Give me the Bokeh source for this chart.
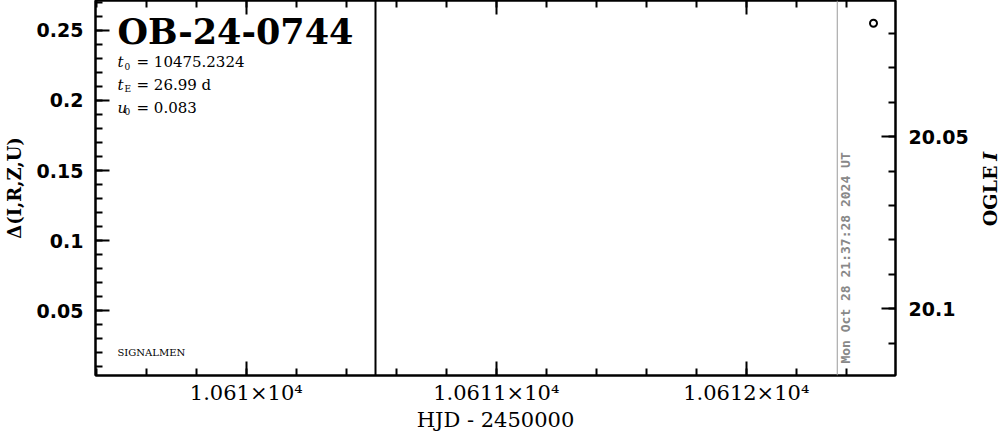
import math
from bokeh.plotting import figure
from bokeh.layouts import row
from bokeh.models import (Range1d, LinearAxis, FixedTicker, Span, Label,
                          CustomJSTickFormatter)
from bokeh.embed import file_html
from bokeh.resources import INLINE

# ---- data ----
event_name = "OB-24-0744"
param_symbols = ["t", "t", "u"]
param_subs = ["0", "E", "0"]
param_values = ["= 10475.2324", "= 26.99 d", "= 0.083"]
timestamp = "Mon Oct 28 21:37:28 2024 UT"
signature = "SIGNALMEN"
x_title = "HJD - 2450000"
left_title = "Δ(I,R,Z,U)"
right_title = ["OGLE", "I"]

x_major = [10610, 10611, 10612]
x_major_labels = ["1.061×10⁴", "1.0611×10⁴", "1.0612×10⁴"]
x_minor = [10609.4 + 0.2 * i for i in range(17)]

d_major = [0.05, 0.1, 0.15, 0.2, 0.25]
d_major_labels = ["0.05", "0.1", "0.15", "0.2", "0.25"]
d_minor = [0.01 * i for i in range(1, 28)]

m_major = [20.05, 20.1]
m_major_labels = ["20.05", "20.1"]
m_minor = [round(20.01 + 0.01 * i, 2) for i in range(11)]

ogle_t = [10612.509]
ogle_mag = [20.017]

black_line_t = 10610.517
now_line_t = 10612.364

# ---- main figure ----
p = figure(width=974, height=434,
           x_range=Range1d(10609.397, 10612.597),
           y_range=Range1d(0.0039, 0.2713),
           output_backend="svg", toolbar_location=None,
           min_border_left=95, min_border_right=79,
           min_border_top=0, min_border_bottom=57)
p.extra_y_ranges = {"mag": Range1d(20.1194, 20.0104)}
p.xgrid.visible = False
p.ygrid.visible = False
p.outline_line_color = "black"
p.outline_line_width = 2
p.background_fill_color = "white"
p.border_fill_color = "white"

def style_axis(ax):
    ax.axis_line_width = 2
    ax.axis_line_color = "black"
    ax.major_tick_in = 14
    ax.major_tick_out = 0
    ax.minor_tick_in = 7
    ax.minor_tick_out = 0
    ax.major_tick_line_width = 2
    ax.minor_tick_line_width = 2
    ax.major_tick_line_color = "black"
    ax.minor_tick_line_color = "black"

# bottom axis
xa = p.xaxis[0]
xa.ticker = FixedTicker(ticks=x_major, minor_ticks=x_minor)
xa.major_label_overrides = dict(zip(x_major, x_major_labels))
style_axis(xa)
xa.major_label_text_font = "DejaVu Serif"
xa.major_label_text_font_size = "21px"
xa.major_label_text_color = "black"
xa.major_label_standoff = 5
xa.axis_label = x_title
xa.axis_label_text_font = "DejaVu Serif"
xa.axis_label_text_font_size = "21px"
xa.axis_label_text_font_style = "normal"
xa.axis_label_text_color = "black"
xa.axis_label_standoff = 0

# top axis (ticks only)
ta = LinearAxis(ticker=FixedTicker(ticks=x_major, minor_ticks=x_minor),
                formatter=CustomJSTickFormatter(code="return ''"))
style_axis(ta)
ta.major_label_standoff = 0
p.add_layout(ta, "above")

# left axis
ya = p.yaxis[0]
ya.ticker = FixedTicker(ticks=d_major, minor_ticks=d_minor)
ya.major_label_overrides = dict(zip(d_major, d_major_labels))
style_axis(ya)
ya.major_label_text_font = "DejaVu Sans"
ya.major_label_text_font_style = "bold"
ya.major_label_text_font_size = "19px"
ya.major_label_text_color = "black"
ya.major_label_standoff = 12
ya.axis_label = left_title
ya.axis_label_text_font = "DejaVu Serif"
ya.axis_label_text_font_style = "bold"
ya.axis_label_text_font_size = "18px"
ya.axis_label_text_color = "black"
ya.axis_label_standoff = 9

# right axis (magnitudes)
ra = LinearAxis(y_range_name="mag",
                ticker=FixedTicker(ticks=m_major, minor_ticks=m_minor))
ra.major_label_overrides = dict(zip(m_major, m_major_labels))
style_axis(ra)
ra.major_label_text_font = "DejaVu Sans"
ra.major_label_text_font_style = "bold"
ra.major_label_text_font_size = "19px"
ra.major_label_text_color = "black"
ra.major_label_standoff = 13
p.add_layout(ra, "right")

# vertical lines
p.add_layout(Span(location=black_line_t, dimension="height",
                  line_color="black", line_width=2))
p.add_layout(Span(location=now_line_t, dimension="height",
                  line_color="#9a9a9a", line_width=1))

# data
p.scatter(ogle_t, ogle_mag, y_range_name="mag", marker="circle", size=7,
          fill_color=None, line_color="black", line_width=2)

# texts
x0 = 10609.485
p.add_layout(Label(x=x0, y=0.2493, text=event_name, text_font="DejaVu Serif",
                   text_font_style="bold", text_font_size="35px",
                   text_baseline="middle", text_color="black"))
ys = [0.2273, 0.2110, 0.1947]
for sym, sub, val, yy in zip(param_symbols, param_subs, param_values, ys):
    p.add_layout(Label(x=x0, y=yy, text=sym, text_font="DejaVu Serif",
                       text_font_style="italic", text_font_size="15px",
                       text_baseline="middle", text_color="black"))
    p.add_layout(Label(x=x0, y=yy, x_offset=7, y_offset=-4, text=sub,
                       text_font="DejaVu Serif", text_font_size="9px",
                       text_baseline="middle", text_color="black"))
    p.add_layout(Label(x=x0, y=yy, x_offset=19, text=val,
                       text_font="DejaVu Serif", text_font_size="15px",
                       text_baseline="middle", text_color="black"))

p.add_layout(Label(x=x0, y=0.0202, text=signature, text_font="DejaVu Serif",
                   text_font_size="10px", text_baseline="middle",
                   text_color="black"))

p.add_layout(Label(x=10612.397, y=0.0124, text=timestamp, angle=90,
                   angle_units="deg", text_align="left", text_baseline="middle",
                   text_font="DejaVu Sans Mono", text_font_style="bold",
                   text_font_size="13px", text_color="#888888"))

# ---- narrow strip holding the right-hand axis title ----
q = figure(width=25, height=434, x_range=Range1d(0, 1), y_range=Range1d(0, 1),
           output_backend="svg", toolbar_location=None,
           min_border_left=0, min_border_right=0,
           min_border_top=0, min_border_bottom=0)
q.axis.visible = False
q.xgrid.visible = False
q.ygrid.visible = False
q.outline_line_color = None
q.background_fill_color = "white"
q.border_fill_color = "white"
q.add_layout(Label(x=0.6, y=0.398, text=right_title[0], angle=90,
                   angle_units="deg", text_align="left", text_baseline="middle",
                   text_font="DejaVu Serif", text_font_style="bold",
                   text_font_size="19px", text_color="black"))
q.add_layout(Label(x=0.6, y=0.573, text=right_title[1], angle=90,
                   angle_units="deg", text_align="left", text_baseline="middle",
                   text_font="DejaVu Serif", text_font_style="bold italic",
                   text_font_size="19px", text_color="black"))

open("out.html", "w").write(file_html(row(p, q), INLINE))
